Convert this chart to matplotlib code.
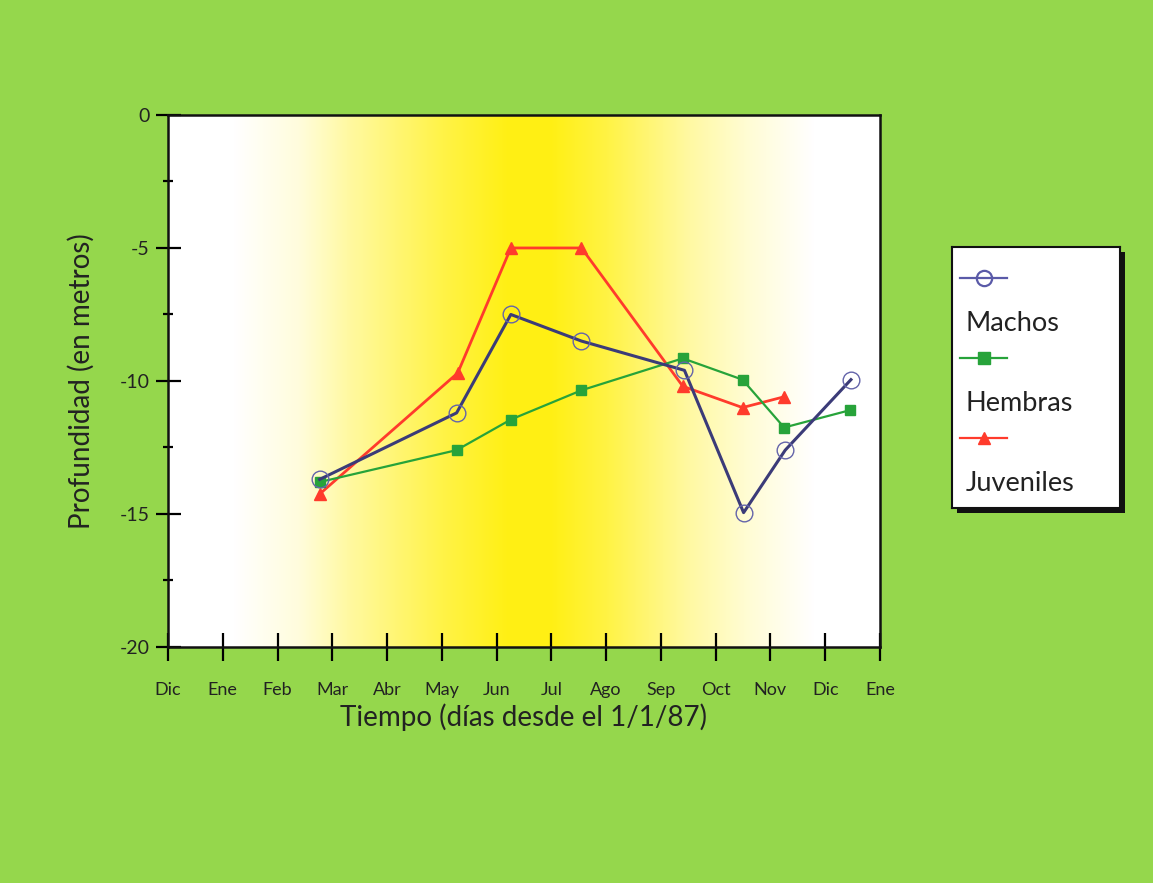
import numpy as np
import matplotlib
matplotlib.use("Agg")
import matplotlib.pyplot as plt
import matplotlib.transforms as mtransforms
from matplotlib.patches import Rectangle
from matplotlib.lines import Line2D

# Month axis: 0 = 1 Dec 1986, 13 = 1 Jan 1988
month_labels = ["Dic", "Ene", "Feb", "Mar", "Abr", "May", "Jun", "Jul",
                "Ago", "Sep", "Oct", "Nov", "Dic", "Ene"]

# Sampling dates (months since 1 Dec 1986) and mean depth (m)
machos_t = [2.77, 5.27, 6.26, 7.55, 9.43, 10.51, 11.27, 12.47]
machos_d = [-13.7, -11.2, -7.5, -8.5, -9.6, -14.95, -12.6, -9.95]

hembras_t = [2.77, 5.27, 6.26, 7.55, 9.40, 10.49, 11.25, 12.45]
hembras_d = [-13.8, -12.6, -11.45, -10.35, -9.15, -9.95, -11.75, -11.1]

juveniles_t = [2.77, 5.29, 6.26, 7.55, 9.40, 10.49, 11.24]
juveniles_d = [-14.25, -9.7, -5.0, -5.0, -10.2, -11.0, -10.6]

FONT = ["Lato", "DejaVu Sans"]
plt.rcParams["font.family"] = FONT

BG_GREEN = "#95d74c"
C_MACHOS = "#3b3b78"
C_MACHOS_MK = "#6464aa"
C_HEMBRAS = "#27a33a"
C_JUV = "#ff3b2c"
TXT = "#222222"

fig = plt.figure(figsize=(11.53, 8.83), dpi=100, facecolor=BG_GREEN)
ax = fig.add_axes([0.1457, 0.2673, 0.6175, 0.6025])
ax.set_facecolor("white")

# Seasonal shading: white -> yellow -> white across the year
stops_x = [0.0, 1.2, 2.4, 3.3, 5.0, 6.2, 7.0, 8.0, 9.5, 10.6, 11.8, 13.0]
stops_a = [0.0, 0.0, 0.15, 0.4, 0.78, 1.0, 1.0, 0.8, 0.4, 0.18, 0.0, 0.0]
xs = np.linspace(0, 13, 600)
a = np.interp(xs, stops_x, stops_a)
white = np.array([1.0, 1.0, 1.0])
yellow = np.array([1.0, 0.94, 0.08])
img = white[None, :] * (1 - a[:, None]) + yellow[None, :] * a[:, None]
ax.imshow(img[None, :, :], extent=[0, 13, -20, 0], aspect="auto",
          interpolation="bilinear", zorder=0)

ax.plot(juveniles_t, juveniles_d, color=C_JUV, lw=2.0, marker="^",
        ms=8, mfc=C_JUV, mec=C_JUV, zorder=3)
ax.plot(hembras_t, hembras_d, color=C_HEMBRAS, lw=1.6, marker="s",
        ms=7.5, mfc=C_HEMBRAS, mec=C_HEMBRAS, zorder=4)
ax.plot(machos_t, machos_d, color=C_MACHOS, lw=2.2, marker="o",
        ms=12, mfc="none", mec=C_MACHOS_MK, mew=1.0, zorder=5)

ax.set_xlim(0, 13)
ax.set_ylim(-20, 0)
ax.set_xticks(range(len(month_labels)))
ax.set_xticklabels(month_labels, fontsize=13, color=TXT)
shift = mtransforms.ScaledTranslation(-4 / 100, 0, fig.dpi_scale_trans)
for lbl in ax.get_xticklabels():
    lbl.set_transform(lbl.get_transform() + shift)
ax.set_yticks([0, -5, -10, -15, -20])
ax.set_yticklabels(["0", "-5", "-10", "-15", "-20"], fontsize=14, color=TXT)
ax.set_yticks(np.arange(-20, 0.1, 2.5), minor=True)
ax.tick_params(axis="x", which="major", direction="inout", length=20, width=1.6,
               pad=15)
ax.tick_params(axis="y", which="major", direction="inout", length=18, width=1.6,
               pad=4)
ax.tick_params(axis="y", which="minor", direction="inout", length=7, width=1.6)
for s in ax.spines.values():
    s.set_linewidth(1.8)
    s.set_color("#111111")

ax.set_xlabel("Tiempo (días desde el 1/1/87)", fontsize=20, color=TXT,
              labelpad=4)
ax.set_ylabel("Profundidad (en metros)", fontsize=20, color=TXT,
              labelpad=18)

# Legend panel with drop shadow, sample line above each label
lx0, ly0, lw_, lh_ = 0.8257, 0.4247, 0.1457, 0.2956
dx, dy = 5 / 1153, 5 / 883
fig.patches.append(Rectangle((lx0 + dx, ly0 - dy), lw_, lh_, transform=fig.transFigure,
                             facecolor="#111111", edgecolor="none", zorder=1))
lax = fig.add_axes([lx0, ly0, lw_, lh_], zorder=2)
lax.set_facecolor("white")
lax.set_xlim(0, 1)
lax.set_ylim(0, 1)
lax.set_xticks([])
lax.set_yticks([])
for s in lax.spines.values():
    s.set_linewidth(1.5)
    s.set_color("#111111")

entries = [
    ("Machos", dict(color="#5a5aa8", lw=1.6, marker="o", ms=11, mfc="none",
                    mec="#5a5aa8", mew=1.6)),
    ("Hembras", dict(color=C_HEMBRAS, lw=1.6, marker="s", ms=8, mfc=C_HEMBRAS,
                     mec=C_HEMBRAS)),
    ("Juveniles", dict(color=C_JUV, lw=1.6, marker="^", ms=9, mfc=C_JUV,
                       mec=C_JUV)),
]
row_top = 0.88
row_step = 0.305
for i, (name, style) in enumerate(entries):
    yl = row_top - i * row_step
    lax.add_line(Line2D([0.05, 0.19, 0.33], [yl, yl, yl], markevery=[1], **style))
    lax.text(0.08, yl - 0.175, name, fontsize=19.5, color=TXT,
             va="center", ha="left")

fig.savefig("out.png", dpi=100, facecolor=BG_GREEN)
